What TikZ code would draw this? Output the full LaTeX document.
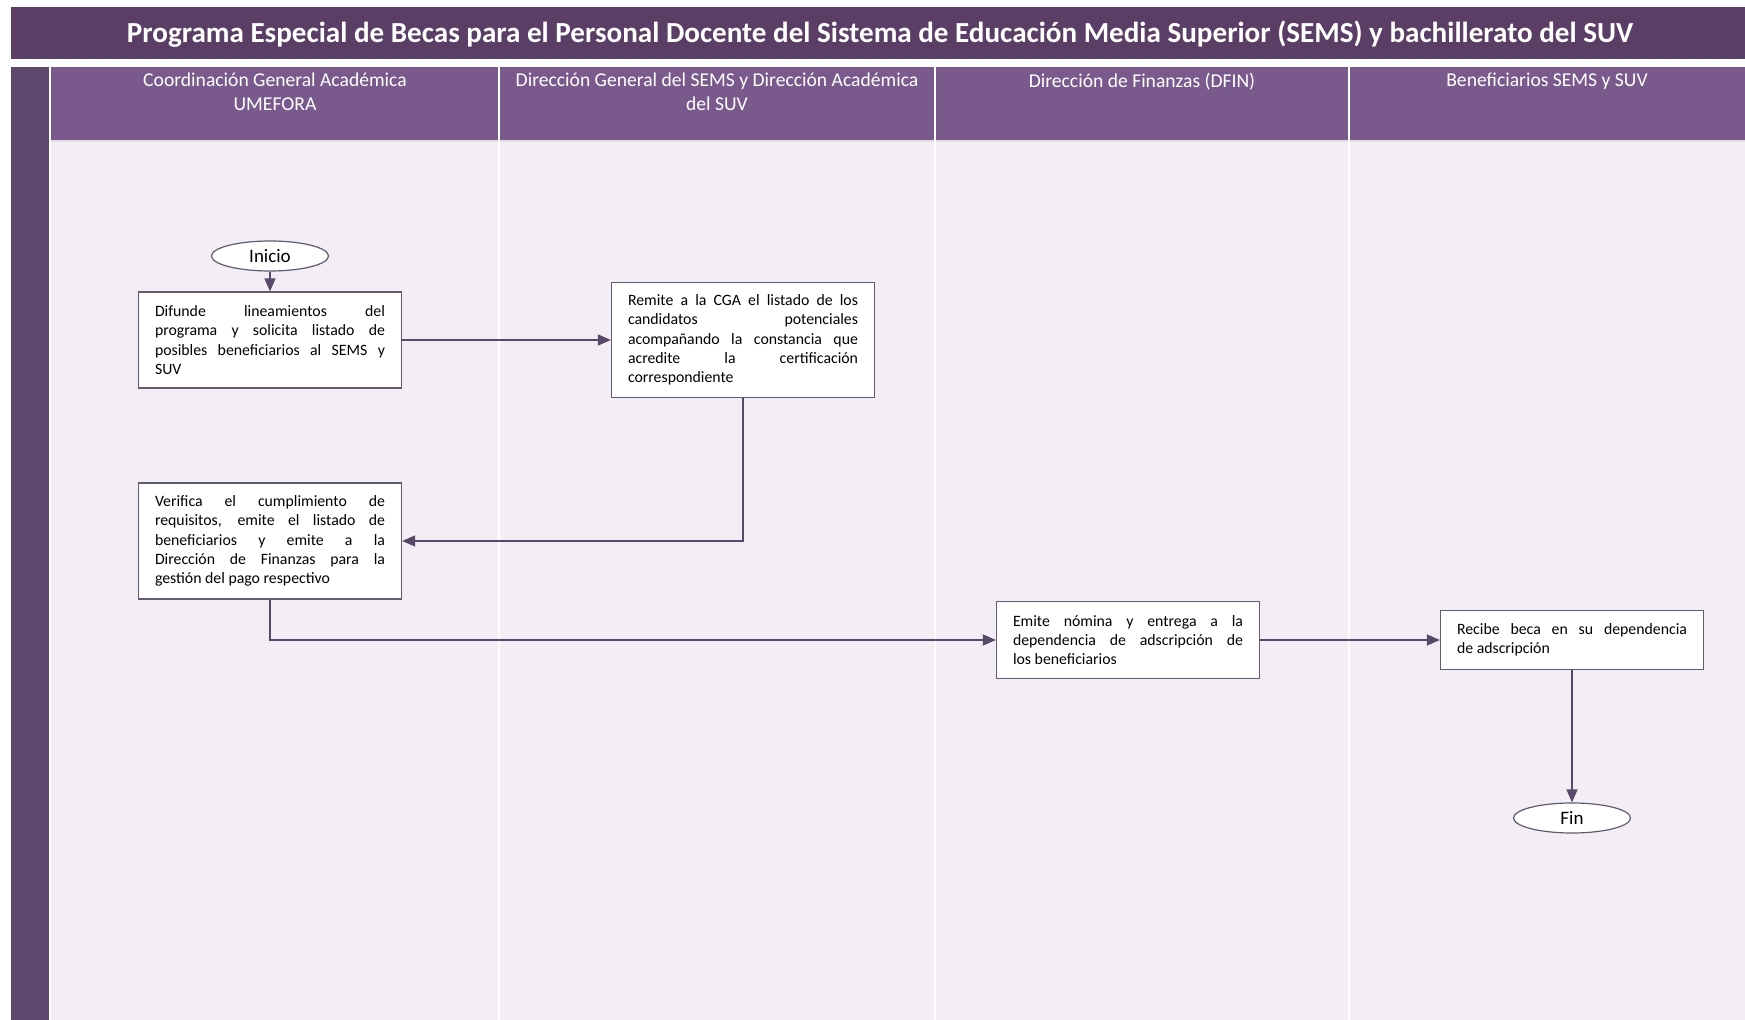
\documentclass[tikz,border=0pt]{standalone}
\usepackage{fontspec}
\setmainfont{Carlito}
\usepackage{xcolor}
\usetikzlibrary{arrows.meta,positioning,shapes.geometric}

\definecolor{titlebar}{RGB}{90,62,102}
\definecolor{headcell}{RGB}{122,90,140}
\definecolor{sidebar}{RGB}{94,72,112}
\definecolor{lanebg}{RGB}{243,237,245}
\definecolor{flowline}{RGB}{88,72,105}
\definecolor{boxline}{RGB}{100,90,110}

\begin{document}
\begin{tikzpicture}[x=0.5pt, y=-0.5pt, >={Triangle[length=6.5pt,width=5.5pt]},
  act/.style={rectangle,draw=boxline,fill=white,line width=0.6pt,text width=115pt,inner xsep=8.25pt,inner ysep=2pt,align=justify,font=\fontsize{7.9}{9.65}\selectfont},
  term/.style={ellipse,draw=boxline,fill=white,line width=0.6pt,minimum width=58.5pt,minimum height=15pt,inner sep=0pt,font=\fontsize{9.5}{11}\selectfont},
  hd/.style={anchor=north,align=center,text=white,font=\fontsize{9.8}{11.7}\selectfont},
  flow/.style={->,draw=flowline,line width=0.7pt}]
  \useasboundingbox (0,0) rectangle (1745,1020);
  % banner and swimlanes
  \fill[titlebar] (11,7) rectangle (1745,59);
  \node[text=white,font=\fontsize{14.55}{17}\selectfont\bfseries] (ttl) at (880,34) {Programa Especial de Becas para el Personal Docente del Sistema de Educación Media Superior (SEMS) y bachillerato del SUV};
  \fill[sidebar] (11,67) rectangle (49,1020);
  \fill[lanebg] (51,141) rectangle (1745,1020);
  \fill[headcell] (51,67) rectangle (1745,141);
  \draw[white!80!headcell,line width=1pt] (51,141) -- (1745,141);
  \foreach \x in {499,935,1349} { \draw[white,line width=1.2pt] (\x,67) -- (\x,1020); }
  \foreach \n/\x/\t in {1/275/{Coordinación General Académica\\UMEFORA},
                        2/717/{Dirección General del SEMS y Dirección Académica\\del SUV},
                        3/1142/{Dirección de Finanzas (DFIN)},
                        4/1547/{Beneficiarios SEMS y SUV}} {
    \node[hd] (hd\n) at (\x,66) {\t};
  }
  % steps
  \node[term] (ini) at (270,256) {Inicio};
  \node[act,minimum height=48pt] (dif) at (270,340) {Difunde lineamientos del\linebreak programa y solicita listado de\linebreak posibles beneficiarios al SEMS y\linebreak SUV};
  \node[act,minimum height=57.5pt] (rem) at (743,340) {Remite a la CGA el listado de los\linebreak candidatos potenciales\linebreak acompañando la constancia que\linebreak acredite la certificación\linebreak correspondiente};
  \node[act,minimum height=58pt] (ver) at (270,541) {Verifica el cumplimiento de\linebreak requisitos, emite el listado de\linebreak beneficiarios y emite a la\linebreak Dirección de Finanzas para la\linebreak gestión del pago respectivo};
  \node[act,minimum height=38.5pt] (emi) at (1128,640) {Emite nómina y entrega a la\linebreak dependencia de adscripción de\linebreak los beneficiarios};
  \node[act,minimum height=29.5pt] (rec) at (1572,640) {Recibe beca en su dependencia\linebreak de adscripción};
  \node[term] (fin) at (1572,818) {Fin};
  % flow
  \draw[flow] (ini) -- (dif);
  \draw[flow] (dif) -- (rem);
  \draw[flow] (rem.south) |- (ver.east);
  \draw[flow] (ver.south) |- (emi.west);
  \draw[flow] (emi) -- (rec);
  \draw[flow] (rec) -- (fin);
\end{tikzpicture}
\end{document}
